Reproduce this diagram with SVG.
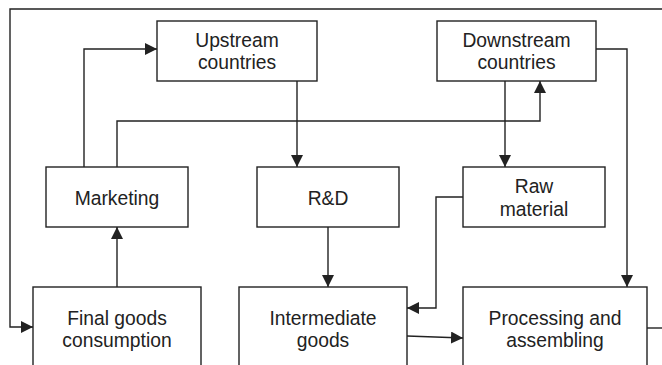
<svg xmlns="http://www.w3.org/2000/svg" width="662" height="365" viewBox="0 0 662 365">
<defs>
<style>
.box{fill:#fff;stroke:#222;stroke-width:1.4}
.t{font-family:"Liberation Sans",Arial,sans-serif;font-size:19.3px;fill:#222;text-anchor:middle}
.c{fill:none;stroke:#222;stroke-width:1.4}
</style>
<marker id="ah" viewBox="0 0 12 12" refX="12" refY="6" markerWidth="12" markerHeight="12" markerUnits="userSpaceOnUse" orient="auto">
<path d="M0,0 L12,6 L0,12 Z" fill="#222"/>
</marker>
</defs>
<rect width="662" height="365" fill="#fff"/>
<g id="connectors">
<path class="c" d="M662,9 H10 V327 H33" marker-end="url(#ah)"/>
<path class="c" d="M647,328 H662"/>
<path class="c" d="M84,167 V49 H157" marker-end="url(#ah)"/>
<path class="c" d="M117,167 V121 H540 V81" marker-end="url(#ah)"/>
<path class="c" d="M297,81 V167" marker-end="url(#ah)"/>
<path class="c" d="M505,81 V167" marker-end="url(#ah)"/>
<path class="c" d="M596,49 H627 V287" marker-end="url(#ah)"/>
<path class="c" d="M328,227 V287" marker-end="url(#ah)"/>
<path class="c" d="M463,197 H436 V308 H407" marker-end="url(#ah)"/>
<path class="c" d="M407,336 L463,338" marker-end="url(#ah)"/>
<path class="c" d="M117,287 V227" marker-end="url(#ah)"/>
</g>
<g id="upstream">
<rect class="box" x="157" y="21" width="160" height="60"/>
<text class="t" x="237" y="47">Upstream</text>
<text class="t" x="237" y="69">countries</text>
</g>
<g id="downstream">
<rect class="box" x="437" y="21" width="159" height="60"/>
<text class="t" x="516.5" y="47">Downstream</text>
<text class="t" x="516.5" y="69">countries</text>
</g>
<g id="marketing">
<rect class="box" x="46" y="167" width="142" height="60"/>
<text class="t" x="117" y="205">Marketing</text>
</g>
<g id="rd">
<rect class="box" x="257" y="167" width="142" height="60"/>
<text class="t" x="328" y="205">R&amp;D</text>
</g>
<g id="raw">
<rect class="box" x="463" y="167" width="142" height="60"/>
<text class="t" x="534" y="193">Raw</text>
<text class="t" x="534" y="216">material</text>
</g>
<g id="final">
<rect class="box" x="33" y="287" width="168" height="100"/>
<text class="t" x="117" y="325">Final goods</text>
<text class="t" x="117" y="347">consumption</text>
</g>
<g id="intermediate">
<rect class="box" x="239" y="287" width="168" height="100"/>
<text class="t" x="323" y="325">Intermediate</text>
<text class="t" x="323" y="347">goods</text>
</g>
<g id="processing">
<rect class="box" x="463" y="287" width="184" height="100"/>
<text class="t" x="555" y="325">Processing and</text>
<text class="t" x="555" y="347">assembling</text>
</g>
</svg>
